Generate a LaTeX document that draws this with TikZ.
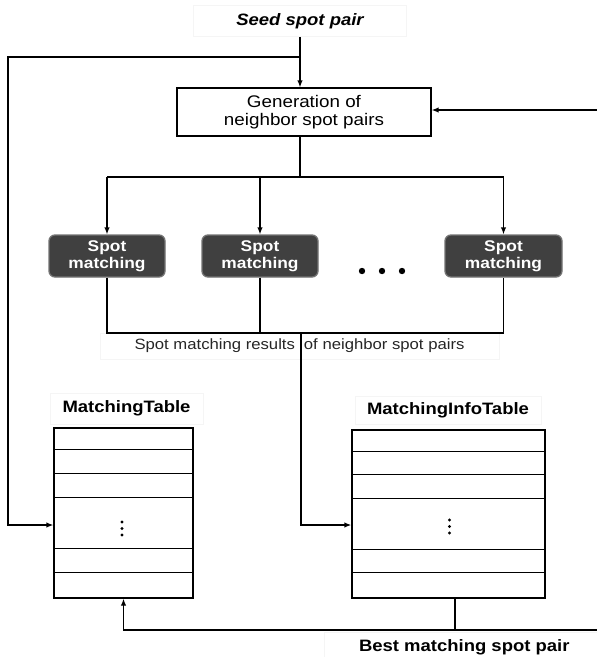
\documentclass[tikz,border=0pt]{standalone}
\usepackage{fontspec}
\setmainfont[FakeStretch=1.12]{Liberation Sans}
\usetikzlibrary{arrows.meta,calc}
\tikzset{>={Latex[length=7pt,width=5.5pt]},
fat/.style={line width=2pt},
ghost/.style={draw=black!4,line width=0.6pt},
lbl/.style={font=\fontsize{16.5}{18}\selectfont\bfseries},
genbox/.style={rectangle,draw,align=center,inner sep=0pt,
  font=\fontsize{16.8}{18}\selectfont,minimum width=254pt,minimum height=48pt},
smbox/.style={rectangle,rounded corners=6pt,fill=black!75,draw=black!55,
  text=white,align=center,inner sep=0pt,
  font=\fontsize{15.5}{17}\selectfont\bfseries,minimum width=116pt,minimum height=42pt},
tbl/.style={rectangle,draw,inner sep=0pt},
}

\begin{document}
\begin{tikzpicture}[x=1pt,y=-1pt,line width=1.3pt]
\useasboundingbox (0,0) rectangle (597,657);

\node[ghost,font=\fontsize{16.5}{18}\selectfont\bfseries\itshape,
  minimum width=213pt,minimum height=31pt] (seed) at (300,21) {Seed spot pair};
\node[genbox] (gen) at (304,112) {Generation of\\neighbor spot pairs};
\node[smbox] (sm1) at (107,256) {Spot\\matching};
\node[smbox] (sm2) at (260,256) {Spot\\matching};
\node[smbox,minimum width=117pt] (sm3) at (503.5,256) {Spot\\matching};
\foreach \dx in {362,382,402} \fill (\dx,271) circle (3.2pt);
\node[ghost,font=\fontsize{14.9}{16}\selectfont,text=black!85,
  minimum width=399pt,minimum height=26pt] (res) at (299.5,346)
  {Spot matching results\hspace{9pt}of neighbor spot pairs};

\node[ghost,lbl,minimum width=153pt,minimum height=31pt] (mtl) at (126.5,408.5) {MatchingTable};
\node[ghost,lbl,minimum width=186pt,minimum height=28pt] (mitl) at (448,410) {MatchingInfoTable};
\node[tbl,minimum width=139pt,minimum height=170pt] (mt) at (123.5,513) {};
\node[tbl,minimum width=193pt,minimum height=168pt] (mit) at (448.5,514) {};
\foreach \r in {22,46,70,121,145} \draw (mt.north west) ++(0,\r) -- ++(139,0);
\foreach \r in {22,45,69,120,143} \draw (mit.north west) ++(0,\r) -- ++(193,0);
\foreach \dy in {522,528.5,535} \fill (122,\dy) circle (1.7pt);
\foreach \dy in {520,526.5,533} \fill (449.5,\dy) circle (1.7pt);
\node[ghost,lbl,minimum width=280pt,minimum height=30pt,anchor=north west] (best)
  at (324,632) {Best matching spot pair};

% feedback paths
\coordinate (fork) at (300,57);
\coordinate (lt) at (8,57);
\coordinate (lb) at (8,525);
\coordinate (rin) at (597,110);
\coordinate (topbus) at (300,177);
\coordinate (lowbus) at (301,333);
\coordinate (midin) at (301,525);
\coordinate (bot) at (455,630);
\coordinate (rout) at (597,630);

\draw[->] (seed.south) -- (seed.south |- gen.north);
\draw[->] (fork) -- (lt) -- (lb) -- (lb -| mt.west);
\draw[->] (rin) -- (rin -| gen.east);

\draw[fat] (gen.south -| topbus) -- (topbus);
\draw[fat] (topbus -| sm1) -- (topbus -| sm3);
\foreach \n in {sm1,sm2,sm3} \draw[->] (topbus -| \n) -- (\n.north);

\draw (sm1.south) |- (lowbus -| sm3) -- (sm3.south);
\draw (sm2.south) -- (sm2 |- lowbus);
\draw[fat,->] (lowbus) -- (midin) -- (midin -| mit.west);

\draw (bot |- mit.south) -- (bot);
\draw[->] (rout) -- (rout -| mt.south) -- (mt.south);
\end{tikzpicture}
\end{document}
